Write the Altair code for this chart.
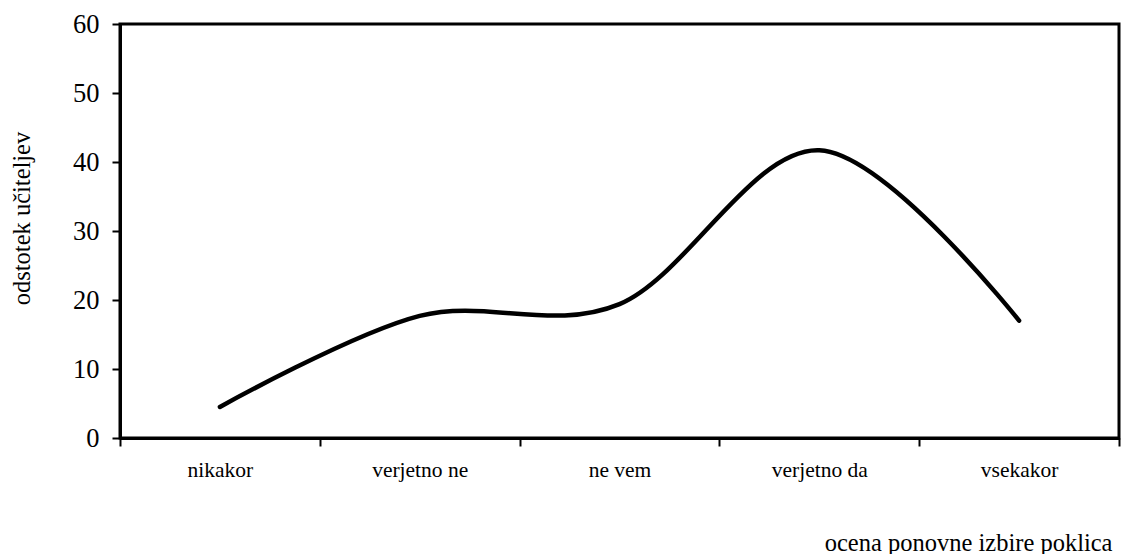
import altair as alt
import pandas as pd

categories = ["nikakor", "verjetno ne", "ne vem", "verjetno da", "vsekakor"]
values = [4.5, 17.7, 19.4, 41.7, 17.0]
y_ticks = [0, 10, 20, 30, 40, 50, 60]

df = pd.DataFrame({"cat": categories, "val": values})
FONT = "Liberation Serif"

chart = alt.Chart(df).mark_line(
    interpolate="cardinal", tension=0, color="black", strokeWidth=4.5, strokeCap="round"
).encode(
    x=alt.X(
        "cat:N",
        sort=categories,
        bandPosition=0.5,
        scale=alt.Scale(type="band", paddingInner=0, paddingOuter=0),
        axis=alt.Axis(
            title="ocena ponovne izbire poklica",
            titleFont=FONT, titleFontSize=24.5, titleFontWeight="normal", titleColor="black",
            titleAnchor="end", titleAlign="right", titleBaseline="alphabetic",
            titleX=992, titleY=112,
            labelFont=FONT, labelFontSize=21.5, labelColor="black", labelAngle=0,
            labelPadding=13,
            tickBand="extent", tickSize=8, tickWidth=2, tickColor="black",
            domainColor="black", domainWidth=3, grid=False,
        ),
    ),
    y=alt.Y(
        "val:Q",
        scale=alt.Scale(domain=[0, 60], nice=False),
        axis=alt.Axis(
            values=y_ticks,
            title="odstotek učiteljev",
            titleFont=FONT, titleFontSize=24.5, titleFontWeight="normal", titleColor="black",
            titleAngle=-90, titleAlign="center", titleBaseline="middle",
            titleX=-98, titleY=194,
            labelFont=FONT, labelFontSize=26.5, labelColor="black", labelPadding=13,
            tickSize=8, tickWidth=2, tickColor="black",
            domainColor="black", domainWidth=3, grid=False,
        ),
    ),
).properties(
    width=999,
    height=414,
    background="white",
    autosize=alt.AutoSizeParams(type="none"),
    padding={"left": 120, "top": 24, "right": 2, "bottom": 116},
).configure_view(
    stroke="black", strokeWidth=3
)

chart.save("out.html", embed_options={"renderer": "svg", "actions": False})
